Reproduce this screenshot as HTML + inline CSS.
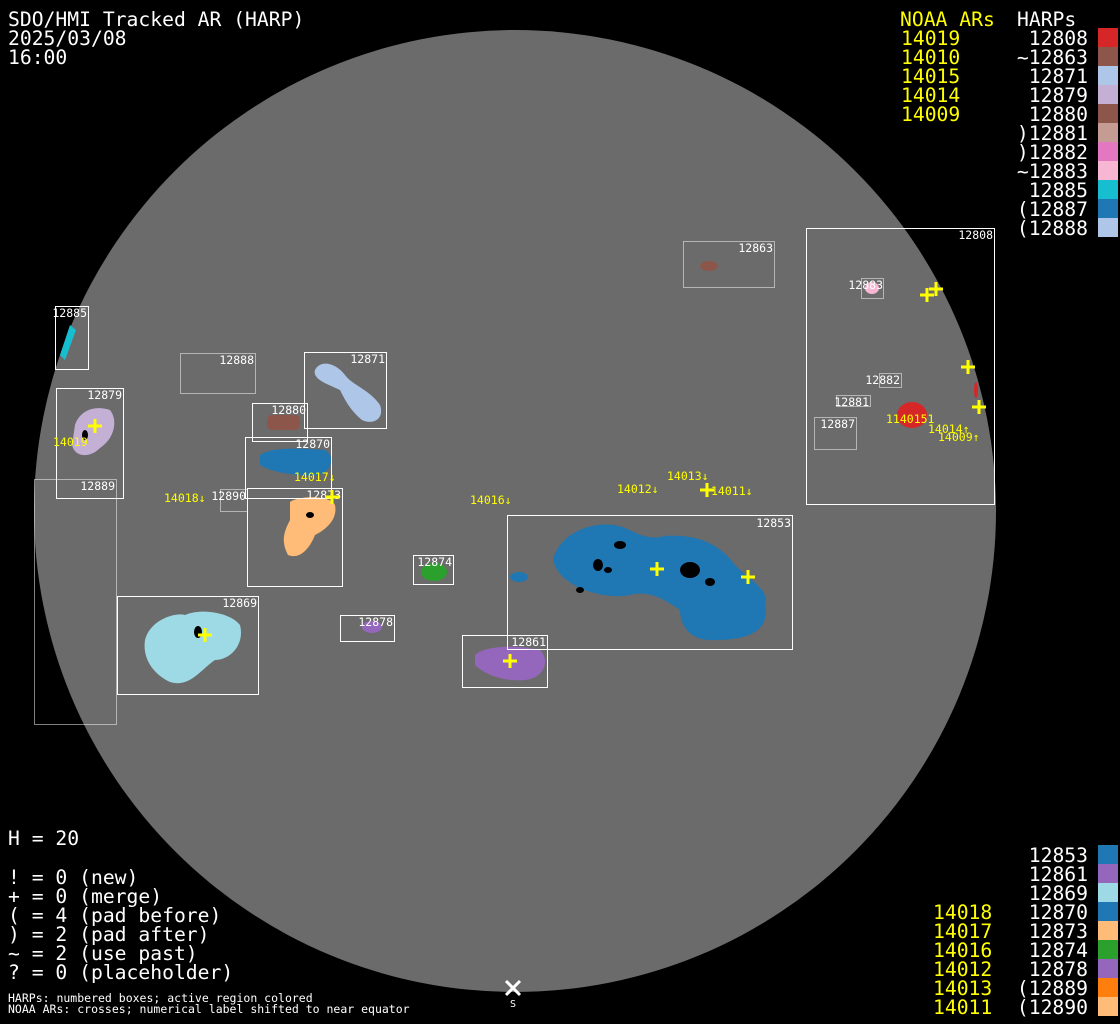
<!DOCTYPE html>
<html><head><meta charset="utf-8"><style>
html,body{margin:0;padding:0;background:#000;width:1120px;height:1024px;overflow:hidden}
svg text{font-family:"DejaVu Sans Mono","Liberation Mono",monospace}
</style></head><body>
<svg width="1120" height="1024" viewBox="0 0 1120 1024" xmlns="http://www.w3.org/2000/svg">
<rect width="1120" height="1024" fill="#000"/>
<circle cx="515" cy="511" r="481" fill="#6b6b6b"/>
<g>
<path d="M553,560 C560,530 600,518 625,528 C640,535 650,540 665,536 C700,534 720,545 735,565 C750,580 770,590 765,605 C770,630 750,640 715,640 C690,642 680,625 680,610 C665,600 650,590 630,595 C610,600 560,590 553,560Z" fill="#1f77b4"/>
<ellipse cx="519" cy="577" rx="9" ry="5" fill="#1f77b4"/>
<path d="M475,655 C485,645 520,645 540,650 C550,660 545,678 525,680 C505,682 485,675 475,665Z" fill="#9467bd"/>
<path d="M145,640 C150,620 175,612 185,615 C200,608 230,612 240,625 C245,645 230,660 215,660 C200,670 190,688 170,682 C155,675 142,660 145,640Z" fill="#9edae5"/>
<path d="M260,455 C270,447 300,448 325,450 C335,455 333,472 318,475 C300,477 270,472 260,465Z" fill="#1f77b4"/>
<path d="M290,502 C300,495 330,495 335,505 C338,520 325,530 315,535 C310,548 300,560 288,555 C280,540 285,530 290,520Z" fill="#ffbb78"/>
<path d="M315,370 C320,360 335,362 345,375 C352,385 370,390 380,405 C385,420 372,425 362,420 C350,410 345,400 340,390 C330,385 312,380 315,370Z" fill="#aec7e8"/>
<path d="M75,425 C80,410 95,405 110,410 C118,420 115,438 100,448 C90,458 75,458 72,445Z" fill="#c5b0d5"/>
<path d="M60,355 L70,325 L76,330 L65,360Z" fill="#17becf"/>
<rect x="267" y="415" width="33" height="15" rx="5" fill="#8c564b"/>
<ellipse cx="434" cy="572" rx="13" ry="9" fill="#2ca02c"/>
<ellipse cx="372" cy="627" rx="10" ry="6" fill="#9467bd"/>
<ellipse cx="709" cy="266" rx="9" ry="5" fill="#8c564b"/>
<ellipse cx="912" cy="415" rx="15" ry="13" fill="#d62728"/>
<ellipse cx="976" cy="390" rx="2" ry="8" fill="#d62728"/>
<ellipse cx="872" cy="288" rx="7" ry="6" fill="#f7b6d2"/>
</g>
<g fill="#000">
<ellipse cx="690" cy="570" rx="10" ry="8"/><ellipse cx="598" cy="565" rx="5" ry="6"/><ellipse cx="608" cy="570" rx="4" ry="3"/>
<ellipse cx="710" cy="582" rx="5" ry="4"/><ellipse cx="198" cy="632" rx="4" ry="6"/><ellipse cx="85" cy="435" rx="3" ry="5"/>
<ellipse cx="620" cy="545" rx="6" ry="4"/><ellipse cx="580" cy="590" rx="4" ry="3"/><ellipse cx="310" cy="515" rx="4" ry="3"/>
</g>
<g fill="none" stroke="#fff" stroke-width="1">
<rect x="507.5" y="515.5" width="285" height="134"/>
<rect x="462.5" y="635.5" width="85" height="52"/>
<rect x="117.5" y="596.5" width="141" height="98"/>
<rect x="245.5" y="437.5" width="86" height="61"/>
<rect x="247.5" y="488.5" width="95" height="98"/>
<rect x="304.5" y="352.5" width="82" height="76"/>
<rect x="252.5" y="403.5" width="55" height="38"/>
<rect x="56.5" y="388.5" width="67" height="110"/>
<rect x="55.5" y="306.5" width="33" height="63"/>
<rect x="413.5" y="555.5" width="40" height="29"/>
<rect x="340.5" y="615.5" width="54" height="26"/>
<rect x="806.5" y="228.5" width="188" height="276"/>
</g>
<g fill="none" stroke="#fff" stroke-width="1" stroke-dasharray="1,1">
<rect x="34.5" y="479.5" width="82" height="245"/>
<rect x="180.5" y="353.5" width="75" height="40"/>
<rect x="220.5" y="489.5" width="27" height="22"/>
<rect x="683.5" y="241.5" width="91" height="46"/>
<rect x="861.5" y="278.5" width="22" height="20"/>
<rect x="879.5" y="373.5" width="22" height="14"/>
<rect x="836.5" y="395.5" width="34" height="11"/>
<rect x="814.5" y="417.5" width="42" height="32"/>
</g>
<g fill="#fff" font-size="11.5" text-anchor="end">
<text x="791" y="527">12853</text><text x="546" y="646">12861</text><text x="257" y="607">12869</text>
<text x="330" y="448">12870</text><text x="341" y="499">12873</text><text x="385" y="363">12871</text>
<text x="306" y="414">12880</text><text x="122" y="399">12879</text><text x="87" y="317">12885</text>
<text x="452" y="566">12874</text><text x="393" y="626">12878</text><text x="993" y="239">12808</text>
<text x="115" y="490">12889</text><text x="254" y="364">12888</text><text x="246" y="500">12890</text>
<text x="773" y="252">12863</text><text x="883" y="289">12883</text><text x="900" y="384">12882</text>
<text x="869" y="406">12881</text><text x="855" y="428">12887</text>
</g>
<g stroke="#ffff00" stroke-width="3">
<path d="M650,569h14M657,562v14M741,577h14M748,570v14M503,661h14M510,654v14M198,635h14M205,628v14M88,426h14M95,419v14M700,490h14M707,483v14M325,497h14M332,490v14M920,295h14M927,288v14M929,289h14M936,282v14M961,367h14M968,360v14M972,407h14M979,400v14"/>
</g>
<g fill="#ffff00" font-size="11.5">
<text x="164" y="502">14018↓</text><text x="294" y="481">14017↓</text><text x="470" y="504">14016↓</text>
<text x="617" y="493">14012↓</text><text x="667" y="480">14013↓</text><text x="711" y="495">14011↓</text>
<text x="886" y="423">1140151</text><text x="928" y="433">14014↑</text><text x="938" y="441">14009↑</text>
<text x="53" y="446">14019</text>
</g>
<g fill="#fff" font-size="19.7">
<text x="8" y="26">SDO/HMI Tracked AR (HARP)</text>
<text x="8" y="45">2025/03/08</text>
<text x="8" y="64">16:00</text>
</g>
<g font-size="19.7">
<text x="900" y="26" fill="#ffff00">NOAA ARs</text>
<text x="1017" y="26" fill="#fff">HARPs</text>
<g fill="#ffff00"><text x="901" y="45">14019</text><text x="901" y="64">14010</text><text x="901" y="83">14015</text><text x="901" y="102">14014</text><text x="901" y="121">14009</text></g>
<g fill="#fff" text-anchor="end">
<text x="1088" y="45">12808</text><text x="1088" y="64">~12863</text><text x="1088" y="83">12871</text><text x="1088" y="102">12879</text>
<text x="1088" y="121">12880</text><text x="1088" y="140">)12881</text><text x="1088" y="159">)12882</text><text x="1088" y="178">~12883</text>
<text x="1088" y="197">12885</text><text x="1088" y="216">(12887</text><text x="1088" y="235">(12888</text>
</g>
</g>
<g>
<rect x="1098" y="28" width="20" height="19" fill="#d62728"/><rect x="1098" y="47" width="20" height="19" fill="#8c564b"/>
<rect x="1098" y="66" width="20" height="19" fill="#aec7e8"/><rect x="1098" y="85" width="20" height="19" fill="#c5b0d5"/>
<rect x="1098" y="104" width="20" height="19" fill="#8c564b"/><rect x="1098" y="123" width="20" height="19" fill="#c49c94"/>
<rect x="1098" y="142" width="20" height="19" fill="#e377c2"/><rect x="1098" y="161" width="20" height="19" fill="#f7b6d2"/>
<rect x="1098" y="180" width="20" height="19" fill="#17becf"/><rect x="1098" y="199" width="20" height="19" fill="#1f77b4"/>
<rect x="1098" y="218" width="20" height="19" fill="#aec7e8"/>
</g>
<g font-size="19.7">
<g fill="#fff" text-anchor="end">
<text x="1088" y="862">12853</text><text x="1088" y="881">12861</text><text x="1088" y="900">12869</text><text x="1088" y="919">12870</text>
<text x="1088" y="938">12873</text><text x="1088" y="957">12874</text><text x="1088" y="976">12878</text><text x="1088" y="995">(12889</text><text x="1088" y="1014">(12890</text>
</g>
<g fill="#ffff00"><text x="933" y="919">14018</text><text x="933" y="938">14017</text><text x="933" y="957">14016</text><text x="933" y="976">14012</text><text x="933" y="995">14013</text><text x="933" y="1014">14011</text></g>
</g>
<g>
<rect x="1098" y="845" width="20" height="19" fill="#1f77b4"/><rect x="1098" y="864" width="20" height="19" fill="#9467bd"/>
<rect x="1098" y="883" width="20" height="19" fill="#9edae5"/><rect x="1098" y="902" width="20" height="19" fill="#1f77b4"/>
<rect x="1098" y="921" width="20" height="19" fill="#ffbb78"/><rect x="1098" y="940" width="20" height="19" fill="#2ca02c"/>
<rect x="1098" y="959" width="20" height="19" fill="#9467bd"/><rect x="1098" y="978" width="20" height="19" fill="#ff7f0e"/>
<rect x="1098" y="997" width="20" height="19" fill="#ffbb78"/>
</g>
<g fill="#fff" font-size="19.7">
<text x="8" y="845">H = 20</text>
<text x="8" y="884">! = 0 (new)</text><text x="8" y="903">+ = 0 (merge)</text><text x="8" y="922">( = 4 (pad before)</text>
<text x="8" y="941">) = 2 (pad after)</text><text x="8" y="960">~ = 2 (use past)</text><text x="8" y="979">? = 0 (placeholder)</text>
</g>
<g fill="#fff" font-size="11.5">
<text x="8" y="1002">HARPs: numbered boxes; active region colored</text>
<text x="8" y="1013">NOAA ARs: crosses; numerical label shifted to near equator</text>
</g>
<path d="M506,981l14,14M520,981l-14,14" stroke="#fff" stroke-width="3"/>
<text x="513" y="1007" fill="#fff" font-size="10" text-anchor="middle">S</text>
</svg>
</body></html>
